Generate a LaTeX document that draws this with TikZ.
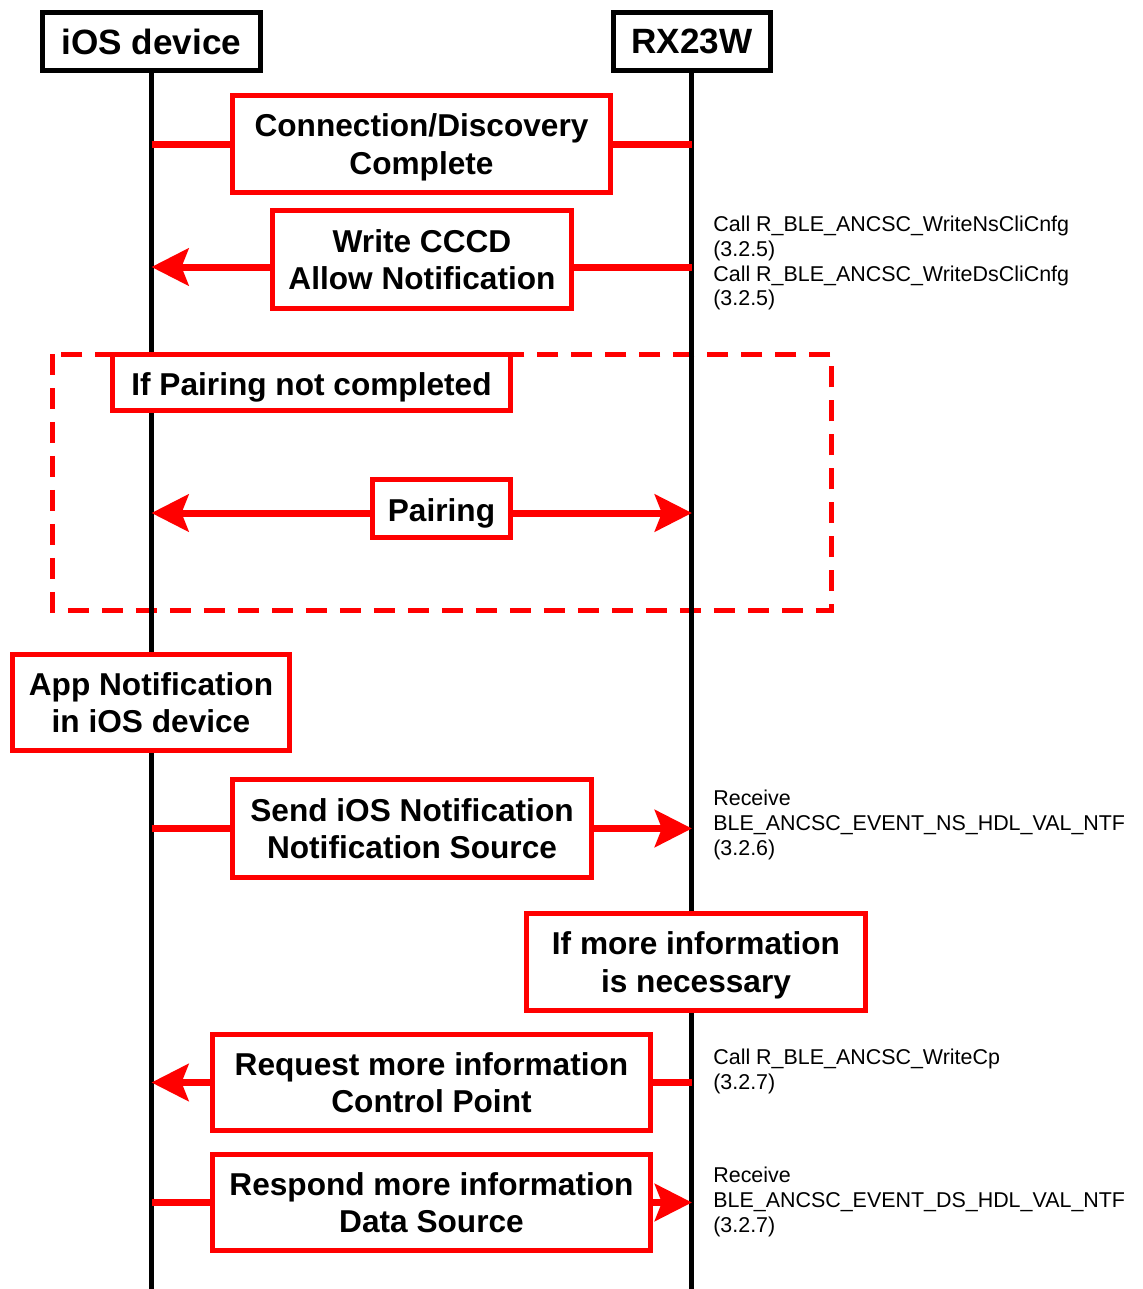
\documentclass[tikz,border=0pt]{standalone}
\usepackage{fontspec}
\setmainfont{Liberation Sans}
\usetikzlibrary{arrows.meta,positioning}

\begin{document}
\begin{tikzpicture}[x=0.02cm,y=-0.02cm,on grid,
  head/.style={draw,line width=0.1cm,fill=white,inner sep=0pt,minimum height=1.16cm,font=\bfseries\fontsize{20}{24}\selectfont},
  box/.style={draw=red,line width=0.1cm,fill=white,inner sep=0pt,align=center,font=\bfseries\fontsize{18}{21.5}\selectfont,
    text depth=0pt,execute at begin node={\rule{0pt}{15pt}}},
  note/.style={anchor=north west,inner sep=0pt,align=left,font=\fontsize{12.2}{14}\selectfont},
  life/.style={line width=0.1cm},
  sig/.style={red,line width=0.14cm},
  sigarr/.style={-{Stealth[length=0.74cm,width=0.74cm,inset=0.14cm]}}]
\useasboundingbox (0,0) rectangle (1143,1289);

% pairing frame
\draw[red,line width=0.1cm,dash pattern=on 0.42cm off 0.26cm] (52,354) rectangle (831,610);

\node[head,minimum width=4.36cm] (ios) at (151.5,41.5) {iOS device};
\node[head,minimum width=3.14cm,right=10.81cm of ios] (rx) {RX23W};
\coordinate (iosend) at (ios.south |- 0,1289);
\coordinate (rxend) at (rx.south |- 0,1289);
\draw[life] (ios.south) -- (iosend);
\draw[life] (rx.south) -- (rxend);

\node[box,minimum width=7.56cm,minimum height=1.94cm] (conn) at (421.5,144) {Connection/Discovery\\Complete};
\node[box,minimum width=5.98cm,minimum height=1.96cm] (cccd) at (422,259.5) {Write CCCD\\Allow Notification};
\node[box,minimum width=7.96cm,minimum height=1.12cm] (ifpair) at (311.5,382.5) {If Pairing not completed};
\node[box,minimum width=2.76cm,minimum height=1.16cm] (pair) at (441.5,508.5) {Pairing};
\node[box,minimum width=5.54cm,minimum height=1.92cm] (app) at (151,702.5) {App Notification\\in iOS device};
\node[box,minimum width=7.18cm,minimum height=1.96cm] (send) at (412,828.5) {Send iOS Notification\\Notification Source};
\node[box,minimum width=6.78cm,minimum height=1.94cm] (ifmore) at (696,962) {If more information\\is necessary};
\node[box,minimum width=8.76cm,minimum height=1.92cm] (req) at (431.5,1082.5) {Request more information\\Control Point};
\node[box,minimum width=8.76cm,minimum height=1.92cm,below=2.4cm of req] (resp) {Respond more information\\Data Source};

\draw[sig] (conn.west -| ios) -- (conn.west) (conn.east) -- (conn.east -| rx);
\draw[sig] ([yshift=-0.15cm]cccd.east -| rx) -- ([yshift=-0.15cm]cccd.east);
\draw[sig,sigarr] ([yshift=-0.15cm]cccd.west) -- ([yshift=-0.15cm]cccd.west -| ios);
\draw[sig,sigarr] ([yshift=-0.09cm]pair.west) -- ([yshift=-0.09cm]pair.west -| ios);
\draw[sig,sigarr] ([yshift=-0.09cm]pair.east) -- ([yshift=-0.09cm]pair.east -| rx);
\draw[sig] (send.west -| ios) -- (send.west);
\draw[sig,sigarr] (send.east) -- (send.east -| rx);
\draw[sig] (req.east -| rx) -- (req.east);
\draw[sig,sigarr] (req.west) -- (req.west -| ios);
\draw[sig] (resp.west -| ios) -- (resp.west);
\draw[sig,sigarr] (resp.east) -- (resp.east -| rx);

\node[note] (wrnote) at (713,216) {Call R\_BLE\_ANCSC\_WriteNsCliCnfg\\(3.2.5)\\Call R\_BLE\_ANCSC\_WriteDsCliCnfg\\(3.2.5)};
\node[note] (nsnote) at (713,790) {Receive\\BLE\_ANCSC\_EVENT\_NS\_HDL\_VAL\_NTF\\(3.2.6)};
\node[note] (cpnote) at (713,1049) {Call R\_BLE\_ANCSC\_WriteCp\\(3.2.7)};
\node[note] (dsnote) at (713,1167) {Receive\\BLE\_ANCSC\_EVENT\_DS\_HDL\_VAL\_NTF\\(3.2.7)};
\end{tikzpicture}
\end{document}
